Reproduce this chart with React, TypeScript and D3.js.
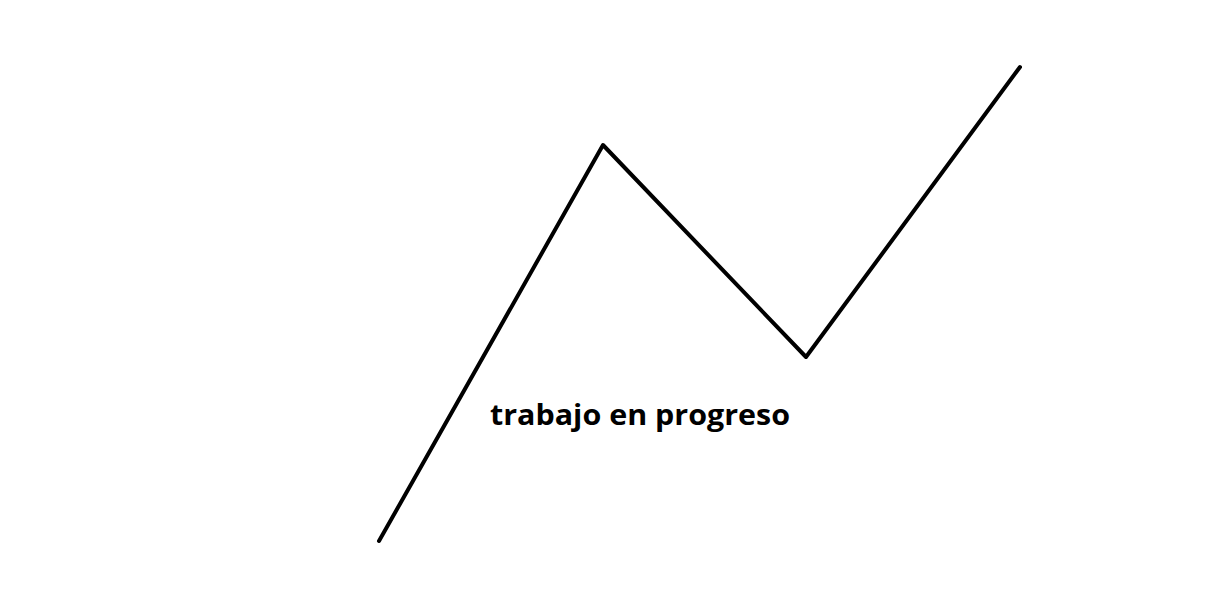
import React, { useEffect, useRef } from 'react';
import * as d3 from 'd3';

const steps = [0, 224, 427, 641];
const progress = [0, 396, 184, 474];
const label = 'trabajo en progreso';

function App() {
  const ref = useRef<SVGSVGElement>(null);

  useEffect(() => {
    const width = 1219;
    const height = 590;
    const svg = d3.select(ref.current);
    svg.selectAll('*').remove();
    svg.attr('width', width).attr('height', height);

    svg.append('rect').attr('width', width).attr('height', height).attr('fill', '#fff');

    const x = d3.scaleLinear().domain([0, 641]).range([379, 1020]);
    const y = d3.scaleLinear().domain([0, 474]).range([541, 67]);

    const data = steps.map((s, i) => ({ s, p: progress[i] }));
    const line = d3.line<{ s: number; p: number }>()
      .x(d => x(d.s))
      .y(d => y(d.p));

    svg.append('path')
      .datum(data)
      .attr('d', line)
      .attr('fill', 'none')
      .attr('stroke', '#000')
      .attr('stroke-width', 4)
      .attr('stroke-linejoin', 'round')
      .attr('stroke-linecap', 'round');

    svg.append('text')
      .attr('x', 490)
      .attr('y', 425)
      .attr('textLength', 300)
      .attr('lengthAdjust', 'spacingAndGlyphs')
      .style('font-family', '"Open Sans", sans-serif')
      .style('font-weight', 700)
      .style('font-size', '29px')
      .attr('fill', '#000')
      .text(label);
  }, []);

  return (
    <div style={{ position: 'fixed', top: 0, left: 0 }}>
      <svg ref={ref} style={{ display: 'block' }}></svg>
    </div>
  );
}

export default App;
